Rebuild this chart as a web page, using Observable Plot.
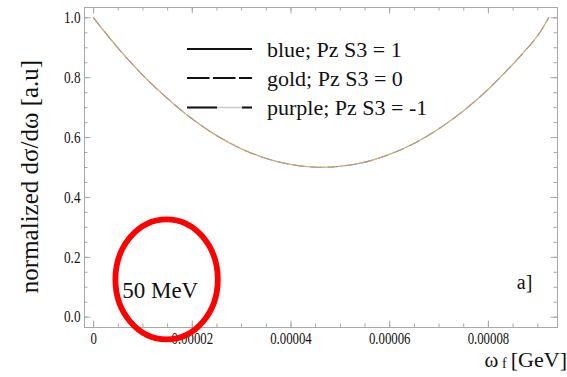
<!DOCTYPE html>
<html>
<head>
<meta charset="utf-8">
<script src="https://cdn.jsdelivr.net/npm/d3@7"></script>
<script src="https://cdn.jsdelivr.net/npm/@observablehq/plot@0.6"></script>
<style>
  html, body { margin: 0; padding: 0; background: #fff; }
  #chart svg { display: block; }
</style>
</head>
<body>
<div id="chart"></div>
<script>
// Final photon energy ω_f (GeV) and the normalized cross section dσ/dω
const omegaF = [0, 0.000005, 0.00001, 0.000015, 0.00002, 0.000025, 0.00003, 0.000035,
  0.00004, 0.000045, 0.00005, 0.000055, 0.00006, 0.000065, 0.00007, 0.000075,
  0.00008, 0.000085, 0.00009, 0.0000922];
const dSigma = [1.000, 0.898, 0.808, 0.730, 0.662, 0.606, 0.562, 0.530,
  0.510, 0.501, 0.504, 0.518, 0.544, 0.581, 0.630, 0.690,
  0.762, 0.846, 0.941, 1.000];

// The three polarisation cases coincide at this energy
const seriesNames = ["blue; Pz S3 = 1", "gold; Pz S3 = 0", "purple; Pz S3 = -1"];
const seriesColors = ["#b4ab94", "#c9b673", "#b89888"];
const seriesDash = [null, "7,2", "10,7"];

// Axis ticks and their labels
const xMajorTicks = [0, 0.00002, 0.00004, 0.00006, 0.00008];
const xMinorTicks = [0, 0.000005, 0.00001, 0.000015, 0.00002, 0.000025, 0.00003, 0.000035,
  0.00004, 0.000045, 0.00005, 0.000055, 0.00006, 0.000065, 0.00007, 0.000075,
  0.00008, 0.000085, 0.00009];
const xTickLabels = ["0", "0.00002", "0.00004", "0.00006", "0.00008"];
const yMajorTicks = [0, 0.2, 0.4, 0.6, 0.8, 1.0];
const yMinorTicks = [0, 0.05, 0.1, 0.15, 0.2, 0.25, 0.3, 0.35, 0.4, 0.45, 0.5,
  0.55, 0.6, 0.65, 0.7, 0.75, 0.8, 0.85, 0.9, 0.95, 1.0];
const yTickLabels = ["0.0", "0.2", "0.4", "0.6", "0.8", "1.0"];

// Energy annotation, centred in data units
const beamLabel = "50 MeV";
const beamMark = {omega: 0.0000149, sigma: 0.1245};
const panelLabel = "a]";

const rows = seriesNames.flatMap((name) =>
  omegaF.map((w, i) => ({series: name, omega: w, sigma: dSigma[i]})));

const serif = "'Liberation Serif', 'Times New Roman', serif";
const frameGray = "#a8a8a8";
const W = 567, H = 377;
const frameLeft = 84, frameRight = 10, frameTop = 7, frameBottom = 50;
const frameW = W - frameLeft - frameRight, frameH = H - frameTop - frameBottom;

// short inward ticks along each edge of the frame
const edgeTicksX = (ticks, len) => [
  Plot.tickX(ticks, {x: (d) => d, insetTop: frameH - len, stroke: frameGray}),
  Plot.tickX(ticks, {x: (d) => d, insetBottom: frameH - len, stroke: frameGray})
];
const edgeTicksY = (ticks, len) => [
  Plot.tickY(ticks, {y: (d) => d, insetRight: frameW - len, stroke: frameGray}),
  Plot.tickY(ticks, {y: (d) => d, insetLeft: frameW - len, stroke: frameGray})
];

const label = (text, options) =>
  Plot.text([text], {fontFamily: serif, fill: "#111", lineAnchor: "bottom", ...options});

const plot = Plot.plot({
  width: W,
  height: H,
  marginLeft: frameLeft,
  marginRight: frameRight,
  marginTop: frameTop,
  marginBottom: frameBottom,
  style: {fontFamily: serif, background: "#fff", color: "#111"},
  x: {domain: [-0.00000184, 0.0000940], axis: null},
  y: {domain: [-0.0345, 1.0345], axis: null},
  marks: [
    Plot.frame({stroke: frameGray}),
    ...edgeTicksX(xMinorTicks, 3.5),
    ...edgeTicksX(xMajorTicks, 6.5),
    ...edgeTicksY(yMinorTicks, 3.5),
    ...edgeTicksY(yMajorTicks, 6.5),
    Plot.axisX(xMajorTicks, {anchor: "bottom", tickSize: 0, tickPadding: 5.5, fontSize: 16,
      fontFamily: serif, tickFormat: (d, i) => xTickLabels[i], label: null}),
    Plot.axisY(yMajorTicks, {anchor: "left", tickSize: 0, tickPadding: 4, fontSize: 16.5,
      fontFamily: serif, tickFormat: (d, i) => yTickLabels[i], label: null}),
    // curves
    ...seriesNames.map((name, k) =>
      Plot.line(rows.filter((r) => r.series === name), {
        x: "omega", y: "sigma", stroke: seriesColors[k], strokeWidth: 1.1,
        strokeDasharray: seriesDash[k], curve: "catmull-rom"
      })),
    // axis titles
    label("normalized dσ/dω [a.u]", {frameAnchor: "left", rotate: -90, dx: -47, dy: 9,
      textAnchor: "middle", fontSize: 25}),
    label("ω", {frameAnchor: "bottom-right", dx: -73, dy: 39.5, textAnchor: "start", fontSize: 21}),
    label("f", {frameAnchor: "bottom-right", dx: -55.5, dy: 40.5, textAnchor: "start", fontSize: 14}),
    label("[GeV]", {frameAnchor: "bottom-right", dx: 9.5, dy: 39.5, textAnchor: "end", fontSize: 22}),
    // annotations
    label(beamLabel, {frameAnchor: "bottom-left", dx: 37.7, dy: -29.8, textAnchor: "start", fontSize: 23}),
    label(panelLabel, {frameAnchor: "bottom-right", dx: -40.7, dy: -38.2, textAnchor: "start", fontSize: 20})
  ]
});

const svg = d3.select(plot);

// narrow tick numerals
svg.selectAll('g[aria-label="x-axis tick label"] text, g[aria-label="y-axis tick label"] text')
  .each(function () {
    const t = this.getAttribute("transform") || "";
    this.setAttribute("transform", `${t} scale(0.8,1)`);
  });

// legend, placed relative to the frame's top-left corner
const legend = svg.append("g")
  .attr("font-family", serif).attr("font-size", 22).attr("fill", "#111")
  .attr("text-anchor", "start");
const rowY = [42, 71, 100.5];
const legendDash = [null, "22.5,3.5", "30,25"];
seriesNames.forEach((name, k) => {
  const y = frameTop + rowY[k];
  if (k === 2) {
    legend.append("line").attr("x1", frameLeft + 103).attr("x2", frameLeft + 168).attr("y1", y).attr("y2", y)
      .attr("stroke", "#c6c6e4").attr("stroke-width", 1.4);
  }
  legend.append("line").attr("x1", frameLeft + 103).attr("x2", frameLeft + 168).attr("y1", y).attr("y2", y)
    .attr("stroke", "#111").attr("stroke-width", 2.2)
    .attr("stroke-dasharray", legendDash[k]);
  legend.append("text").attr("x", frameLeft + 183).attr("y", y + 7.5).text(name);
});

// red ring around the energy label
const xs = plot.scale("x"), ys = plot.scale("y");
svg.append("ellipse")
  .attr("cx", xs.apply(beamMark.omega))
  .attr("cy", ys.apply(beamMark.sigma))
  .attr("rx", 51.2).attr("ry", 60)
  .attr("fill", "none").attr("stroke", "#ff0000").attr("stroke-width", 5.8);

document.getElementById("chart").append(plot);
</script>
</body>
</html>
